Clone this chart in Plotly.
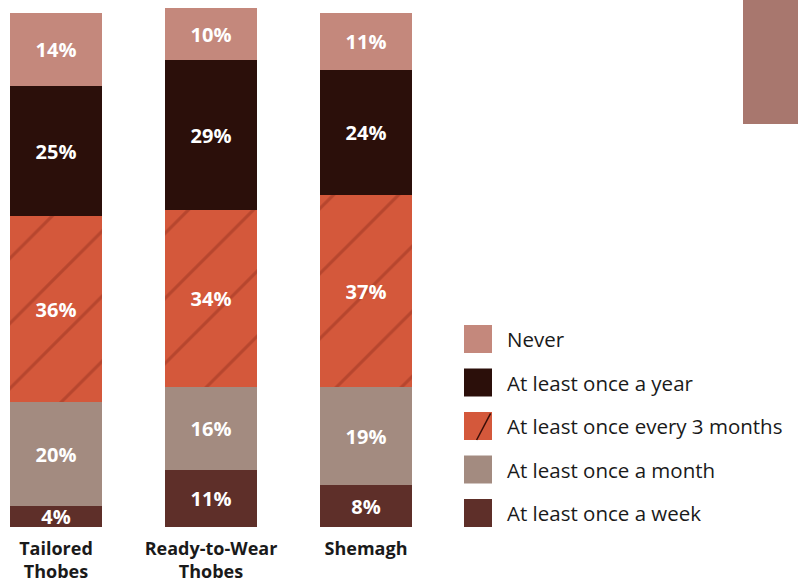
import plotly.graph_objects as go

# Survey data: purchase frequency by garment type (percent of respondents)
categories = ["Tailored<br>Thobes", "Ready-to-Wear<br>Thobes", "Shemagh"]
weekly = [4, 11, 8]
monthly = [20, 16, 19]
quarterly = [36, 34, 37]
yearly = [25, 29, 24]
never = [14, 10, 11]

series_names = [
    "At least once a week",
    "At least once a month",
    "At least once every 3 months",
    "At least once a year",
    "Never",
]
series_values = [weekly, monthly, quarterly, yearly, never]
series_colors = ["#5e2f29", "#a38b80", "#d4583b", "#2b0f0a", "#c4887c"]

FONT = "Open Sans"

fig = go.Figure()
x_pos = list(range(len(categories)))

for name, vals, color in zip(series_names, series_values, series_colors):
    marker = dict(color=color, line=dict(width=0))
    if "3 months" in name:
        # silk-like folds on the quarterly segment
        marker["pattern"] = dict(shape="/", fgcolor="#9a3422", size=46,
                                 solidity=0.07, fillmode="overlay")
    fig.add_trace(go.Bar(
        x=x_pos, y=vals, name=name, width=0.594,
        marker=marker,
        text=vals, texttemplate="%{text}%",
        textposition="inside", insidetextanchor="middle",
        textfont=dict(family=FONT, size=20, color="white", weight="bold"),
        showlegend=False, hoverinfo="skip",
    ))

# Hand-built legend, top to bottom: Never ... week
sq_w = 28 / 798
sq_h = 28 / 519
x0 = 464 / 798
shapes = []
annotations = []
for i, idx in enumerate(reversed(range(len(series_names)))):
    cy_px = 339 + 43.5 * i
    cy = (527 - cy_px) / 519
    shapes.append(dict(type="rect", xref="paper", yref="paper",
                       x0=x0, x1=x0 + sq_w, y0=cy - sq_h / 2, y1=cy + sq_h / 2,
                       fillcolor=series_colors[idx], line=dict(width=0)))
    if "3 months" in series_names[idx]:
        shapes.append(dict(type="line", xref="paper", yref="paper",
                           x0=x0 + sq_w * 0.45, x1=x0 + sq_w * 0.95,
                           y0=cy - sq_h / 2, y1=cy + sq_h * 0.45,
                           line=dict(color="#3a0e08", width=1.5)))
    annotations.append(dict(xref="paper", yref="paper", x=505 / 798, y=cy,
                            xanchor="left", yanchor="middle", showarrow=False,
                            text=series_names[idx],
                            font=dict(family=FONT, size=20.5, color="#1a1a1a")))

# decorative block in the top-right corner
shapes.append(dict(type="rect", xref="paper", yref="paper",
                   x0=743 / 798, x1=1.02, y0=(527 - 124) / 519, y1=1.05,
                   fillcolor="#a8776e", line=dict(width=0), layer="below"))

fig.update_layout(
    barmode="stack",
    width=798, height=582,
    margin=dict(l=0, r=0, t=8, b=55),
    paper_bgcolor="white", plot_bgcolor="white",
    bargap=0,
    uniformtext=dict(minsize=20, mode="show"),
    shapes=shapes,
    annotations=annotations,
    xaxis=dict(
        range=[-56 / 155, (798 - 56) / 155],
        tickmode="array", tickvals=x_pos, ticktext=categories,
        tickfont=dict(family=FONT, size=18, color="#1a1a1a", weight="bold"),
        showgrid=False, zeroline=False, showline=False, ticks="",
        ticklabelstandoff=9, automargin=False,
    ),
    yaxis=dict(range=[0, 100], visible=False, fixedrange=True, automargin=False),
)

fig.write_html("out.html")
